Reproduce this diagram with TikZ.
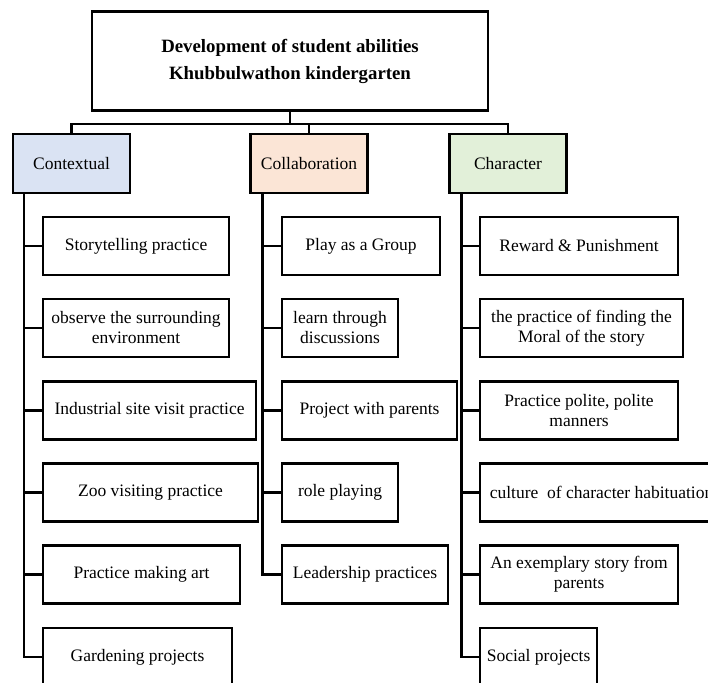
\documentclass[tikz,border=0pt]{standalone}
\usepackage{fontspec}
\setmainfont{Liberation Serif}
\usetikzlibrary{calc}
\definecolor{ctxblue}{HTML}{DAE3F3}
\definecolor{colpeach}{HTML}{FBE5D6}
\definecolor{chrgreen}{HTML}{E2F0D9}
\begin{document}
\begin{tikzpicture}[x=1pt,y=-1pt,
  every node/.style={font=\fontsize{17.5}{20}\selectfont,align=center,inner sep=1pt},
  box/.style={draw,anchor=west,minimum height=58pt},
  head/.style={draw,minimum width=117pt,minimum height=59pt},
  line width=2.1pt]
  \useasboundingbox (0,0) rectangle (708,682);
  \clip (0,0) rectangle (708,682);
  \node[draw,minimum width=396pt,minimum height=99pt,font=\fontsize{18.8}{27}\selectfont\bfseries] (root) at (290,61)
    {Development of student abilities\\Khubbulwathon kindergarten};
  \node[head,fill=ctxblue] (ctx) at (71.5,163.5) {Contextual};
  \node[head,fill=colpeach] (col) at (309,163.5) {Collaboration};
  \node[head,fill=chrgreen] (chr) at (508,163.5) {Character};
  \draw (root.south) -- ++(0,12) coordinate (split);
  \draw (split) -| (ctx.north);
  \draw (split) -| (col.north);
  \draw (split) -| (chr.north);
  % contextual
  \node[box,minimum width=186pt] (c1) at (42,246) {Storytelling practice};
  \node[box,minimum width=186pt] (c2) at (42,328) {observe the surrounding\\environment};
  \node[box,minimum width=213pt] (c3) at (42,410.5) {Industrial site visit practice};
  \node[box,minimum width=215pt] (c4) at (42,492.5) {Zoo visiting practice};
  \node[box,minimum width=197pt] (c5) at (42,574.5) {Practice making art};
  \node[box,minimum width=189pt] (c6) at (42,657) {Gardening projects};
  % collaboration
  \node[box,minimum width=158pt] (l1) at (281,246) {Play as a Group};
  \node[box,minimum width=116pt] (l2) at (281,328) {learn through\\discussions};
  \node[box,minimum width=175pt] (l3) at (281,410.5) {Project with parents};
  \node[box,minimum width=116pt] (l4) at (281,492.5) {role playing};
  \node[box,minimum width=166pt] (l5) at (281,574.5) {Leadership practices};
  % character
  \node[box,minimum width=198pt] (r1) at (479,246) {Reward \& Punishment};
  \node[box,minimum width=203pt] (r2) at (479,328) {the practice of finding the\\Moral of the story};
  \node[box,minimum width=198pt] (r3) at (479,410.5) {Practice polite, polite\\manners};
  \node[box,minimum width=243pt] (r4) at (479,492.5) {culture\ \ of character habituation};
  \node[box,minimum width=198pt] (r5) at (479,574.5) {An exemplary story from\\parents};
  \node[box,minimum width=117pt] (r6) at (479,657) {Social projects};
  \coordinate (bctx) at ($(ctx.south west)+(12,0)$);
  \coordinate (bcol) at ($(col.south west)+(13,0)$);
  \coordinate (bchr) at ($(chr.south west)+(13,0)$);
  \foreach \i in {1,...,6} \draw (bctx) |- (c\i.west);
  \foreach \i in {1,...,5} \draw (bcol) |- (l\i.west);
  \foreach \i in {1,...,6} \draw (bchr) |- (r\i.west);
\end{tikzpicture}
\end{document}
